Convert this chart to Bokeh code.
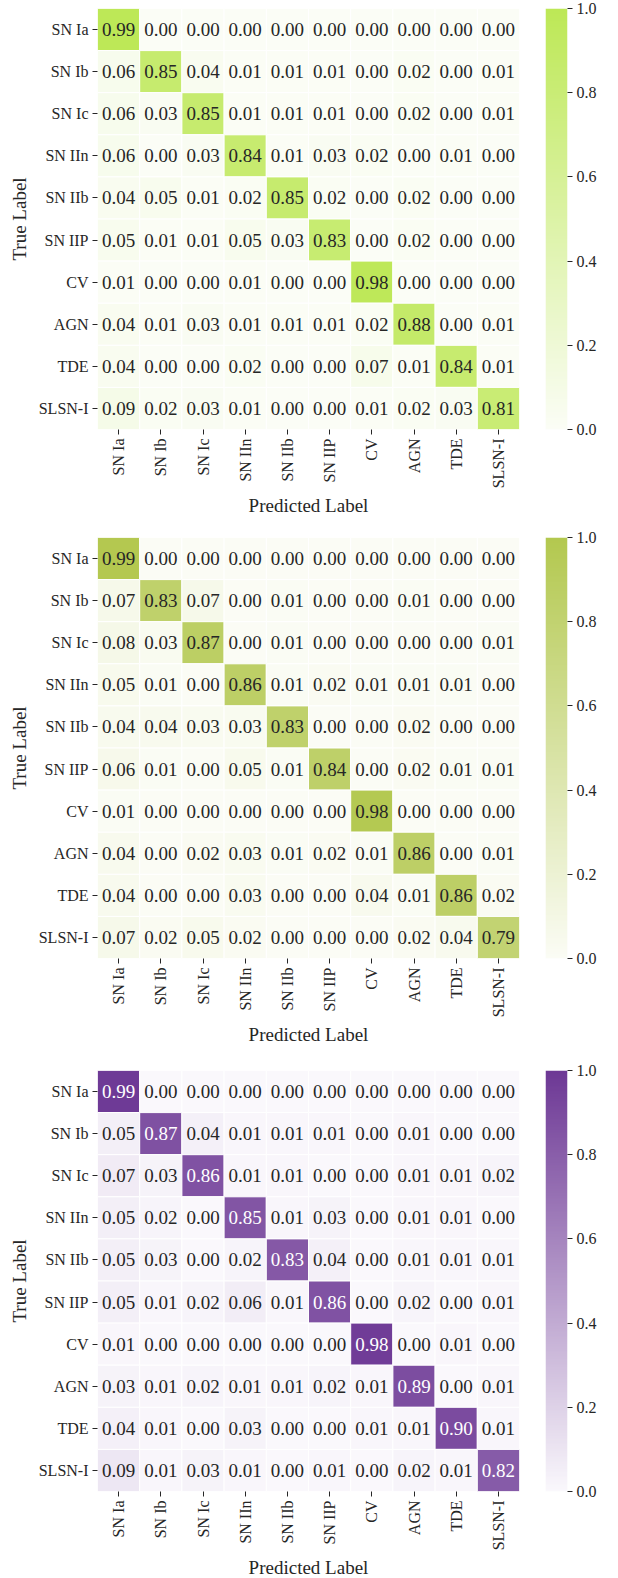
import numpy as np
from bokeh.plotting import figure
from bokeh.models import (FactorRange, ColumnDataSource, LinearColorMapper, FixedTicker,
                          PrintfTickFormatter, Range1d)
from bokeh.layouts import column, row
from bokeh.embed import file_html
from bokeh.resources import INLINE
from bokeh.core.properties import value

# class names, shared by both axes (rows = true, columns = predicted)
classes = ["SN Ia", "SN Ib", "SN Ic", "SN IIn", "SN IIb", "SN IIP", "CV", "AGN", "TDE", "SLSN-I"]

cm_top = [
    [0.99, 0.00, 0.00, 0.00, 0.00, 0.00, 0.00, 0.00, 0.00, 0.00],
    [0.06, 0.85, 0.04, 0.01, 0.01, 0.01, 0.00, 0.02, 0.00, 0.01],
    [0.06, 0.03, 0.85, 0.01, 0.01, 0.01, 0.00, 0.02, 0.00, 0.01],
    [0.06, 0.00, 0.03, 0.84, 0.01, 0.03, 0.02, 0.00, 0.01, 0.00],
    [0.04, 0.05, 0.01, 0.02, 0.85, 0.02, 0.00, 0.02, 0.00, 0.00],
    [0.05, 0.01, 0.01, 0.05, 0.03, 0.83, 0.00, 0.02, 0.00, 0.00],
    [0.01, 0.00, 0.00, 0.01, 0.00, 0.00, 0.98, 0.00, 0.00, 0.00],
    [0.04, 0.01, 0.03, 0.01, 0.01, 0.01, 0.02, 0.88, 0.00, 0.01],
    [0.04, 0.00, 0.00, 0.02, 0.00, 0.00, 0.07, 0.01, 0.84, 0.01],
    [0.09, 0.02, 0.03, 0.01, 0.00, 0.00, 0.01, 0.02, 0.03, 0.81],
]

cm_middle = [
    [0.99, 0.00, 0.00, 0.00, 0.00, 0.00, 0.00, 0.00, 0.00, 0.00],
    [0.07, 0.83, 0.07, 0.00, 0.01, 0.00, 0.00, 0.01, 0.00, 0.00],
    [0.08, 0.03, 0.87, 0.00, 0.01, 0.00, 0.00, 0.00, 0.00, 0.01],
    [0.05, 0.01, 0.00, 0.86, 0.01, 0.02, 0.01, 0.01, 0.01, 0.00],
    [0.04, 0.04, 0.03, 0.03, 0.83, 0.00, 0.00, 0.02, 0.00, 0.00],
    [0.06, 0.01, 0.00, 0.05, 0.01, 0.84, 0.00, 0.02, 0.01, 0.01],
    [0.01, 0.00, 0.00, 0.00, 0.00, 0.00, 0.98, 0.00, 0.00, 0.00],
    [0.04, 0.00, 0.02, 0.03, 0.01, 0.02, 0.01, 0.86, 0.00, 0.01],
    [0.04, 0.00, 0.00, 0.03, 0.00, 0.00, 0.04, 0.01, 0.86, 0.02],
    [0.07, 0.02, 0.05, 0.02, 0.00, 0.00, 0.00, 0.02, 0.04, 0.79],
]

cm_bottom = [
    [0.99, 0.00, 0.00, 0.00, 0.00, 0.00, 0.00, 0.00, 0.00, 0.00],
    [0.05, 0.87, 0.04, 0.01, 0.01, 0.01, 0.00, 0.01, 0.00, 0.00],
    [0.07, 0.03, 0.86, 0.01, 0.01, 0.00, 0.00, 0.01, 0.01, 0.02],
    [0.05, 0.02, 0.00, 0.85, 0.01, 0.03, 0.00, 0.01, 0.01, 0.00],
    [0.05, 0.03, 0.00, 0.02, 0.83, 0.04, 0.00, 0.01, 0.01, 0.01],
    [0.05, 0.01, 0.02, 0.06, 0.01, 0.86, 0.00, 0.02, 0.00, 0.01],
    [0.01, 0.00, 0.00, 0.00, 0.00, 0.00, 0.98, 0.00, 0.01, 0.00],
    [0.03, 0.01, 0.02, 0.01, 0.01, 0.02, 0.01, 0.89, 0.00, 0.01],
    [0.04, 0.01, 0.00, 0.03, 0.00, 0.00, 0.01, 0.01, 0.90, 0.01],
    [0.09, 0.01, 0.03, 0.01, 0.00, 0.01, 0.00, 0.02, 0.01, 0.82],
]

colorbar_ticks = [0.0, 0.2, 0.4, 0.6, 0.8, 1.0]

FONT = "Liberation Serif"
INK = "#262626"


def hex_to_rgb(h):
    h = h.lstrip("#")
    return np.array([int(h[i:i + 2], 16) for i in (0, 2, 4)], dtype=float)


def make_palette(start, end, n=256):
    a, b = hex_to_rgb(start), hex_to_rgb(end)
    out = []
    for t in np.linspace(0.0, 1.0, n):
        c = np.round(a + (b - a) * t).astype(int)
        out.append("#%02x%02x%02x" % tuple(c))
    return out


def relative_luminance(hexcol):
    rgb = hex_to_rgb(hexcol) / 255.0
    rgb = np.where(rgb <= 0.03928, rgb / 12.92, ((rgb + 0.055) / 1.055) ** 2.4)
    return float(rgb.dot([0.2126, 0.7152, 0.0722]))


def style_axis(ax):
    ax.axis_line_color = None
    ax.major_tick_in = 0
    ax.major_tick_out = 5
    ax.major_tick_line_color = INK
    ax.minor_tick_line_color = None
    ax.major_label_text_font = FONT
    ax.major_label_text_font_size = "16px"
    ax.major_label_text_color = INK
    ax.major_label_standoff = 4
    ax.axis_label_text_font = FONT
    ax.axis_label_text_font_size = "19px"
    ax.axis_label_text_font_style = "normal"
    ax.axis_label_text_color = INK


def panel(matrix, start, end, top, bottom):
    pal = make_palette(start, end)
    mapper = LinearColorMapper(palette=pal, low=0.0, high=1.0)

    xs, ys, vals, labels, tcolors = [], [], [], [], []
    for i, true_name in enumerate(classes):
        for j, pred_name in enumerate(classes):
            v = matrix[i][j]
            idx = min(int(v * (len(pal) - 1) + 0.5), len(pal) - 1)
            xs.append(pred_name)
            ys.append(true_name)
            vals.append(v)
            labels.append("%.2f" % v)
            tcolors.append(INK if relative_luminance(pal[idx]) > 0.408 else "white")
    src = ColumnDataSource(dict(x=xs, y=ys, v=vals, label=labels, tc=tcolors))

    p = figure(frame_width=422, frame_height=421,
               x_range=FactorRange(*classes), y_range=FactorRange(*classes[::-1]),
               min_border_left=97, min_border_right=26, min_border_top=top,
               min_border_bottom=bottom,
               output_backend="svg", toolbar_location=None)
    p.rect(x="x", y="y", width=1, height=1, source=src,
           fill_color={"field": "v", "transform": mapper},
           line_color="white", line_width=1)
    p.text(x="x", y="y", text="label", source=src, text_align="center",
           text_baseline="middle", text_font=value(FONT), text_font_size="19px",
           text_color="tc")
    p.grid.visible = False
    p.outline_line_color = None
    p.xaxis.axis_label = "Predicted Label"
    p.yaxis.axis_label = "True Label"
    style_axis(p.xaxis[0])
    style_axis(p.yaxis[0])
    p.xaxis.major_label_orientation = np.pi / 2
    p.xaxis.axis_label_standoff = 4
    p.yaxis.axis_label_standoff = 6

    # colour scale drawn as a vertical gradient with its own axis
    cb = figure(frame_width=22, frame_height=421, x_range=Range1d(0, 1),
                y_range=Range1d(0, 1), min_border_left=0, min_border_right=51,
                min_border_top=top, min_border_bottom=bottom,
                x_axis_type=None, y_axis_location="right",
                output_backend="svg", toolbar_location=None)
    grad = np.linspace(0.0, 1.0, 256).reshape(256, 1)
    cb.image(image=[grad], x=0, y=0, dw=1, dh=1, color_mapper=mapper)
    cb.grid.visible = False
    cb.outline_line_color = None
    style_axis(cb.yaxis[0])
    cb.yaxis.ticker = FixedTicker(ticks=colorbar_ticks)
    cb.yaxis.formatter = PrintfTickFormatter(format="%.1f")
    return row(p, cb, spacing=0)


layout = column(
    panel(cm_top, "#fbfdf6", "#bde856", 8, 96),
    panel(cm_middle, "#fbfcf5", "#b3c84f", 12, 100),
    panel(cm_bottom, "#faf8fc", "#6d3895", 12, 87),
    spacing=0,
)

open("out.html", "w").write(file_html(layout, INLINE))
